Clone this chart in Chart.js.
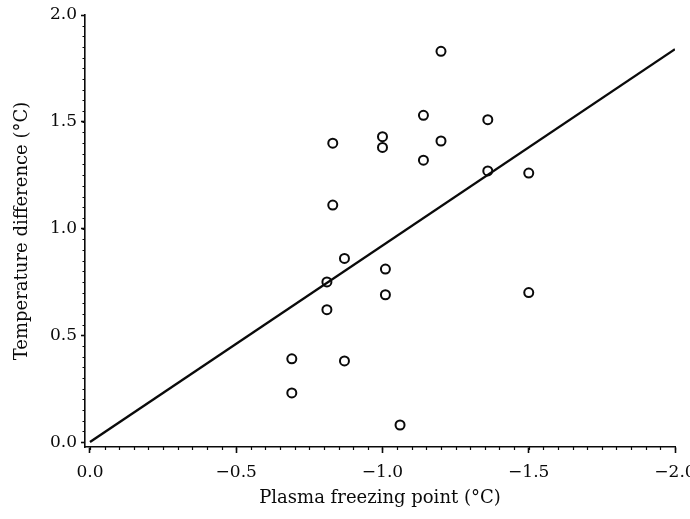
<!DOCTYPE html>
<html>
<head>
<meta charset="utf-8">
<script src="https://cdn.jsdelivr.net/npm/chart.js@4/dist/chart.umd.min.js"></script>
<style>
  html, body { margin: 0; padding: 0; background: #fff; }
  #wrap { width: 690px; height: 519px; position: relative; }
</style>
</head>
<body>
<div id="wrap"><canvas id="chart"></canvas></div>
<script>
// plasma freezing point (°C) vs temperature difference (°C)
const freezePoint = [-1.20, -1.14, -1.36, -0.83, -1.00, -1.00, -1.20, -1.14, -1.36, -1.50, -0.83,
  -0.87, -0.81, -1.01, -1.01, -1.50, -0.81, -0.69, -0.87, -0.69, -1.06];
const tempDiff = [1.83, 1.53, 1.51, 1.40, 1.43, 1.38, 1.41, 1.32, 1.27, 1.26, 1.11,
  0.86, 0.75, 0.81, 0.69, 0.70, 0.62, 0.39, 0.38, 0.23, 0.08];

// regression line end points
const fitX = [0, -2.0];
const fitY = [0, 1.84];

const xTicks = [0, -0.5, -1.0, -1.5, -2.0];
const yTicks = [0, 0.5, 1.0, 1.5, 2.0];

const INK = '#0a0a0a';
const FONT = 'DejaVu Serif';

const fmt = (v) => v.toFixed(1).replace('-', '\u2212');

// small ticks every 0.05 along both axes
const minorTicks = {
  id: 'minorTicks',
  afterDraw(chart) {
    const { ctx, chartArea, scales: { x, y } } = chart;
    ctx.save();
    ctx.strokeStyle = INK;
    ctx.lineWidth = 1.2;
    ctx.beginPath();
    for (let i = 0; i <= 40; i++) {
      const px = Math.round(x.getPixelForValue(-i * 0.05)) + 0.5;
      ctx.moveTo(px, chartArea.bottom);
      ctx.lineTo(px, chartArea.bottom + 3);
    }
    for (let i = 0; i <= 40; i++) {
      const py = Math.round(y.getPixelForValue(i * 0.05)) + 0.5;
      ctx.moveTo(chartArea.left, py);
      ctx.lineTo(chartArea.left - 2.5, py);
    }
    ctx.stroke();
    ctx.restore();
  },
};

new Chart(document.getElementById('chart'), {
  type: 'scatter',
  data: {
    datasets: [
      {
        data: freezePoint.map((v, i) => ({ x: v, y: tempDiff[i] })),
        pointStyle: 'circle',
        pointRadius: 4.5,
        pointBorderWidth: 2,
        borderColor: INK,
        backgroundColor: 'rgba(0,0,0,0)',
      },
      {
        type: 'line',
        data: fitX.map((v, i) => ({ x: v, y: fitY[i] })),
        borderColor: INK,
        borderWidth: 2.4,
        pointRadius: 0,
        fill: false,
      },
    ],
  },
  options: {
    responsive: true,
    maintainAspectRatio: false,
    animation: false,
    layout: { padding: { top: 15, right: 15, left: 0, bottom: 0 } },
    plugins: { legend: { display: false }, tooltip: { enabled: false } },
    scales: {
      x: {
        type: 'linear',
        reverse: true,
        min: -2.0,
        max: 0.017,
        afterBuildTicks: (s) => { s.ticks = xTicks.map((v) => ({ value: v })); },
        afterFit: (s) => { s.height = 72; s.paddingLeft = 0; s.paddingRight = 0; },
        border: { color: INK, width: 1.6 },
        grid: { drawOnChartArea: false, tickLength: 6, tickColor: INK, tickWidth: 1.6 },
        ticks: {
          color: INK,
          padding: 9,
          maxRotation: 0,
          font: { family: FONT, size: 17 },
          callback: (v) => fmt(v),
        },
        title: {
          display: true,
          text: 'Plasma freezing point (°C)',
          color: INK,
          font: { family: FONT, size: 18 },
          padding: { top: 0, bottom: 10 },
        },
      },
      y: {
        type: 'linear',
        min: -0.023,
        max: 2.0,
        afterBuildTicks: (s) => { s.ticks = yTicks.map((v) => ({ value: v })); },
        afterFit: (s) => { s.width = 85; s.paddingTop = 0; s.paddingBottom = 0; },
        border: { color: INK, width: 1.6 },
        grid: { drawOnChartArea: false, tickLength: 4, tickColor: INK, tickWidth: 1.6 },
        ticks: {
          color: INK,
          padding: 4,
          font: { family: FONT, size: 17 },
          callback: (v) => fmt(v),
        },
        title: {
          display: true,
          text: 'Temperature difference (°C)',
          color: INK,
          font: { family: FONT, size: 18 },
          padding: { top: 12, bottom: 0 },
        },
      },
    },
  },
  plugins: [minorTicks],
});
</script>
</body>
</html>
